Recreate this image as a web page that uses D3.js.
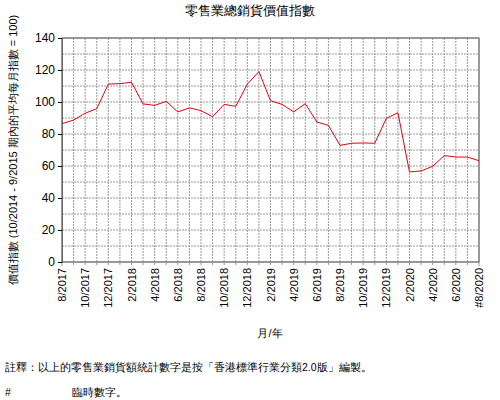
<!DOCTYPE html><html><head><meta charset="utf-8"><script src="https://cdn.jsdelivr.net/npm/d3@7"></script>
<style>body{margin:0;background:#fff}text{font-family:"Liberation Sans",Arial,sans-serif}</style></head><body><svg width="500" height="400"></svg><script>
const months=["8/2017","9/2017","10/2017","11/2017","12/2017","1/2018","2/2018","3/2018","4/2018","5/2018","6/2018","7/2018","8/2018","9/2018","10/2018","11/2018","12/2018","1/2019","2/2019","3/2019","4/2019","5/2019","6/2019","7/2019","8/2019","9/2019","10/2019","11/2019","12/2019","1/2020","2/2020","3/2020","4/2020","5/2020","6/2020","7/2020","8/2020"];
const tickLabels=["8/2017","10/2017","12/2017","2/2018","4/2018","6/2018","8/2018","10/2018","12/2018","2/2019","4/2019","6/2019","8/2019","10/2019","12/2019","2/2020","4/2020","6/2020","#8/2020"];
const values=[86.5,88.7,93,95.8,111.2,111.5,112.3,98.8,97.9,100.4,93.8,96.3,94.6,90.8,98.5,97.3,111.2,119,100.8,98.5,93.8,99,87.5,85.4,72.9,74.2,74.4,74.2,89.8,93.3,56.3,56.9,59.8,66.5,65.6,65.6,63.3];
const yTicks=[0,20,40,60,80,100,120,140];
const svg=d3.select("svg");
const L=62,R=479,T=38,B=262;
const x=d3.scaleLinear().domain([0,months.length-1]).range([L,R]);
const y=d3.scaleLinear().domain([0,140]).range([B,T]);
const g=svg.append("g");
d3.range(0,141,10).forEach(v=>g.append("line").attr("x1",L).attr("x2",R).attr("y1",y(v)).attr("y2",y(v)).attr("stroke","#999").attr("stroke-dasharray",v==0||v==140?null:"2,1"));
months.forEach((m,i)=>g.append("line").attr("x1",x(i)).attr("x2",x(i)).attr("y1",T).attr("y2",B+4).attr("stroke","#999").attr("stroke-dasharray",i==0||i==months.length-1?null:"2,1"));
g.append("rect").attr("x",L).attr("y",T).attr("width",R-L).attr("height",B-T).attr("fill","none").attr("stroke","#666");
svg.append("g").attr("transform",`translate(${L},0)`).call(d3.axisLeft(y).tickValues(yTicks).tickSize(4)).call(a=>{a.select(".domain").attr("stroke","#666");a.selectAll("text").attr("font-size",12).attr("fill","#000")});
months.forEach((m,i)=>{if(i%2==0){svg.append("text").attr("transform",`translate(${x(i)+4},${B+6}) rotate(-90)`).attr("text-anchor","end").attr("font-size",11).text(tickLabels[i/2]);}});
svg.append("path").datum(values).attr("d",d3.line().x((d,i)=>x(i)).y(d=>y(d))).attr("fill","none").attr("stroke","#e8000b").attr("stroke-width",1);
svg.append("text").attr("x",250).attr("y",15).attr("text-anchor","middle").attr("font-size",13).text("零售業總銷貨價值指數");
svg.append("text").attr("transform",`translate(17,150) rotate(-90)`).attr("text-anchor","middle").attr("font-size",11).text("價值指數 (10/2014 - 9/2015 期內的平均每月指數 = 100)");
svg.append("text").attr("x",270).attr("y",337).attr("text-anchor","middle").attr("font-size",11).text("月/年");
svg.append("text").attr("x",5).attr("y",371).attr("font-size",10.5).text("註釋：以上的零售業銷貨額統計數字是按「香港標準行業分類2.0版」編製。");
svg.append("text").attr("x",5).attr("y",396).attr("font-size",10.5).text("#");
svg.append("text").attr("x",72).attr("y",396).attr("font-size",10.5).text("臨時數字。");
</script></body></html>
